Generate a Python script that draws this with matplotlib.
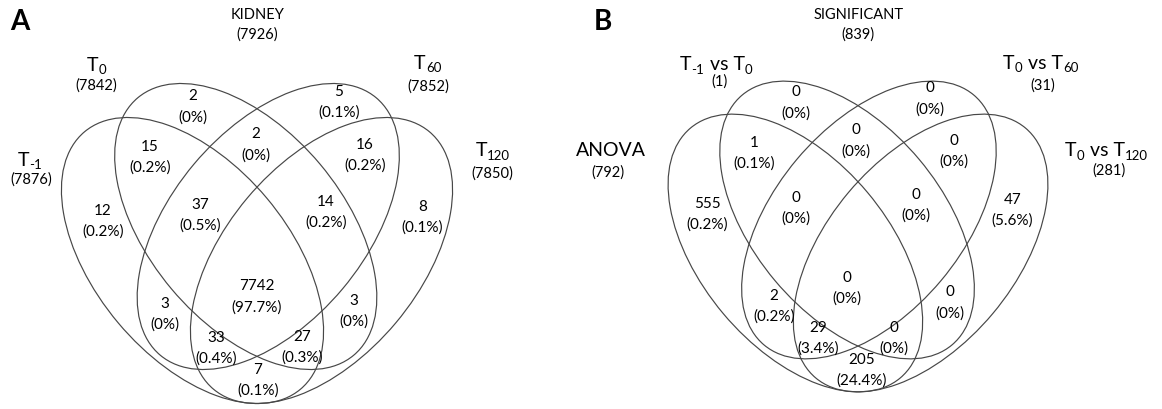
import matplotlib
matplotlib.use('Agg')
import matplotlib.pyplot as plt
from matplotlib.patches import Ellipse

plt.rcParams['font.family'] = ['Lato', 'DejaVu Sans']

# ---- data ----
# region order: only T0 / only T60 / T-1&T0 / T0&T60 / T60&T120 / only T-1 /
# T-1&T0&T60 / T0&T60&T120 / only T120 / all / T-1&T60 / T0&T120 /
# T-1&T60&T120 / T-1&T0&T120 / T-1&T120
kidney_counts = [2, 5, 15, 2, 16, 12, 37, 14, 8, 7742, 3, 3, 33, 27, 7]
kidney_pcts = ['0%', '0.1%', '0.2%', '0%', '0.2%', '0.2%', '0.5%', '0.2%', '0.1%',
               '97.7%', '0%', '0%', '0.4%', '0.3%', '0.1%']
# set names as (text, is_subscript) pieces
kidney_sets = [[('T', 0), ('-1', 1)], [('T', 0), ('0', 1)],
               [('T', 0), ('60', 1)], [('T', 0), ('120', 1)]]
kidney_totals = [7876, 7842, 7852, 7850]
kidney_title, kidney_total = 'KIDNEY', 7926

sig_counts = [0, 0, 1, 0, 0, 555, 0, 0, 47, 0, 2, 0, 29, 0, 205]
sig_pcts = ['0%', '0%', '0.1%', '0%', '0%', '0.2%', '0%', '0%', '5.6%',
            '0%', '0.2%', '0%', '3.4%', '0%', '24.4%']
sig_sets = [[('ANOVA', 0)],
            [('T', 0), ('-1', 1), (' vs T', 0), ('0', 1)],
            [('T', 0), ('0', 1), (' vs T', 0), ('60', 1)],
            [('T', 0), ('0', 1), (' vs T', 0), ('120', 1)]]
sig_totals = [792, 1, 31, 281]
sig_title, sig_total = 'SIGNIFICANT', 839

# ---- layout (pixels, y down) ----
pos_a = [(193, 107), (339, 102.5), (150, 157.5), (256, 145), (365, 155.5),
         (103, 221.5), (200.5, 215.5), (326, 212), (422.5, 217.5), (257, 297),
         (165, 314.5), (354, 311.5), (216, 348), (302, 347.5), (258, 380)]
pos_b = [(796, 103), (930, 99), (754, 153.5), (856, 141), (954, 151.5),
         (707, 214.5), (796, 208.5), (916, 205.5), (1012.6, 210.5), (847, 288),
         (774, 306), (950, 303), (818, 338), (894, 338), (862, 370)]
# set label: (center x, baseline y), count: (x, center y)
set_pos_a = [((29.5, 165.5), (31.5, 179.5)), ((96.5, 71), (96, 86)),
             ((427.5, 69), (428.7, 87)), ((492.5, 156), (492.8, 173.5))]
set_pos_b = [((611, 156.5), (608, 173)), ((715.5, 70.5), (720, 82)),
             ((1040, 69), (1042.5, 86)), ((1105.8, 156), (1109, 171))]

LINE = '#474747'
SET_FS = 14
SUB_FS = 9.5
TXT_FS = 11
CNT_FS = 10.5

fig = plt.figure(figsize=(11.62, 4.09), dpi=100)
ax = fig.add_axes([0, 0, 1, 1])
ax.set_xlim(0, 1162)
ax.set_ylim(409, 0)
ax.axis('off')
renderer = fig.canvas.get_renderer()


def draw_ellipses(cx, cy, s):
    # outer left, inner left, inner right, outer right
    offs = [(-64.5, 17, 50), (-11.25, -17, 50), (11.25, -17, -50), (64.5, 17, -50)]
    for dx, dy, ang in offs:
        ax.add_patch(Ellipse((cx + dx * s, cy + dy * s), 336 * s, 194 * s, angle=ang,
                             fill=False, edgecolor=LINE, lw=0.85))


def set_label(x, y, pieces):
    # pieces laid out left to right; 1 data unit == 1 pixel
    items = []
    for txt, sub in pieces:
        t = ax.text(0, 0, txt, fontsize=SUB_FS if sub else SET_FS, ha='left', va='baseline')
        items.append((t, t.get_window_extent(renderer).width, sub))
    cur = x - sum(w for _, w, _ in items) / 2
    for t, w, sub in items:
        t.set_position((cur, y + 3.5 if sub else y))
        cur += w + (0.5 if sub else 0.3)


def draw_panel(letter, lx, cx, cy, s, title, total, sets, totals, set_pos,
               counts, pcts, pos):
    draw_ellipses(cx, cy, s)
    ax.text(lx, 22, letter, fontsize=20, fontweight='bold', ha='center', va='center')
    ax.text(cx + 1, 15, title, fontsize=10.5, ha='center', va='center')
    ax.text(cx, 35, '({})'.format(total), fontsize=CNT_FS, ha='center', va='center')
    for pieces, n, (p1, p2) in zip(sets, totals, set_pos):
        set_label(p1[0], p1[1], pieces)
        ax.text(p2[0], p2[1], '({})'.format(n), fontsize=CNT_FS, ha='center', va='center')
    for c, p, (x, y) in zip(counts, pcts, pos):
        ax.text(x, y - 10.5, str(c), fontsize=TXT_FS, ha='center', va='center')
        ax.text(x, y + 10.5, '({})'.format(p), fontsize=TXT_FS, ha='center', va='center')


draw_panel('A', 20, 257, 243.5, 1.0, kidney_title, kidney_total, kidney_sets,
           kidney_totals, set_pos_a, kidney_counts, kidney_pcts, pos_a)
draw_panel('B', 603, 858, 236.5, 0.971, sig_title, sig_total, sig_sets,
           sig_totals, set_pos_b, sig_counts, sig_pcts, pos_b)

fig.savefig('out.png', dpi=100, facecolor='white')
